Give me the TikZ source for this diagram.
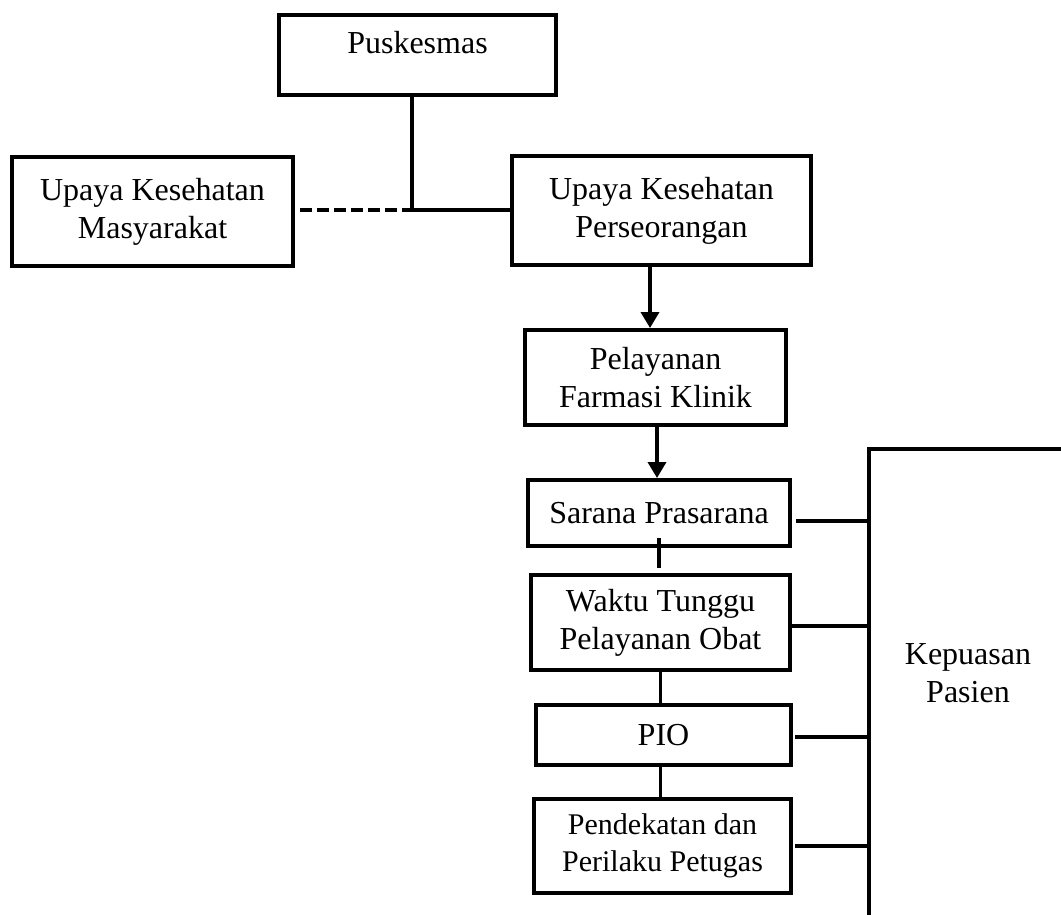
\documentclass[tikz,border=0pt]{standalone}
\usepackage{fontspec}
\setmainfont{Liberation Serif}
\usetikzlibrary{arrows.meta}
\begin{document}
\begin{tikzpicture}[x=1pt,y=-1pt,
  box/.style={draw,line width=4pt,align=center,inner sep=0pt,
    font=\fontsize{32}{38}\selectfont},
  conn/.style={line width=3.6pt},
  arr/.style={line width=3.6pt,-{Triangle[length=16pt,width=18pt]}},
  dsh/.style={line width=3.6pt,dash pattern=on 12pt off 5pt}]
\useasboundingbox (0,0) rectangle (1061,914);
\node[box,minimum width=277pt,text height=38pt,text depth=42pt] (pusk) at (417.5,55) {Puskesmas};
\node[box,minimum width=281pt,minimum height=109pt] (ukm) at (152.5,211.5) {Upaya Kesehatan\\Masyarakat};
\node[box,minimum width=299pt,minimum height=109pt] (ukp) at (661.5,210.5) {Upaya Kesehatan\\Perseorangan};
\node[box,minimum width=261pt,minimum height=95pt] (pel) at (655.5,377.5) {Pelayanan\\Farmasi Klinik};
\node[box,minimum width=262pt,minimum height=66pt] (sar) at (659,513) {Sarana Prasarana};
\node[box,minimum width=259pt,minimum height=95pt] (wak) at (660.5,622.5) {Waktu Tunggu\\Pelayanan Obat};
\node[box,minimum width=255pt,minimum height=60pt] (pio) at (663.5,735) {PIO};
\node[box,minimum width=257pt,minimum height=94pt,font=\fontsize{30}{37}\selectfont] (pend) at (662.5,846) {Pendekatan dan\\Perilaku Petugas};
\node[align=center,inner sep=0pt,font=\fontsize{32}{38}\selectfont] (kep) at (968,673) {Kepuasan\\Pasien};
\coordinate (j) at (412,210);
\coordinate (vtop) at (869,449);
\coordinate (vbot) at (869,916);
\coordinate (rtop) at (1063,449);
\draw[conn] ([xshift=-5.5pt]pusk.south) -- (j) -- (ukp.west |- j);
\draw[dsh] ([xshift=5pt]ukm.east |- j) -- (j);
\draw[arr] ([xshift=-11.5pt]ukp.south) -- ([xshift=-11.5pt]ukp.south |- pel.north);
\draw[arr] ([xshift=1.5pt]pel.south) -- ([xshift=1.5pt]pel.south |- sar.north);
\draw[conn] ([yshift=10pt]sar.south) -- ([yshift=5pt]sar.south |- wak.north);
\draw[conn] (wak.south) -- (wak.south |- pio.north);
\draw[conn] (pio.south -| wak.south) -- (pend.north -| wak.south);
\draw[conn,line width=4pt,line cap=rect] (vbot) -- (vtop) -- (rtop);
\draw[conn] ([xshift=4pt,yshift=-8pt]sar.east) -- ([yshift=-8pt]sar.east -| vtop);
\draw[conn] ([yshift=-3.5pt]wak.east) -- ([yshift=-3.5pt]wak.east -| vtop);
\draw[conn] ([xshift=2pt,yshift=-2pt]pio.east) -- ([yshift=-2pt]pio.east -| vtop);
\draw[conn] ([xshift=2pt]pend.east) -- (pend.east -| vtop);
\end{tikzpicture}
\end{document}
